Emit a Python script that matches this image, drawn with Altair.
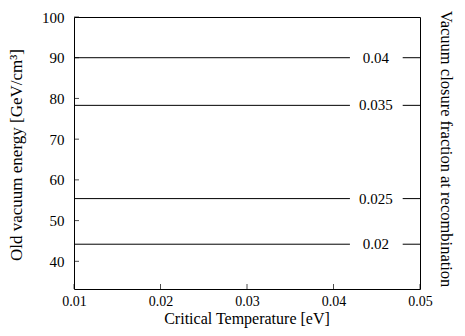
import altair as alt
import pandas as pd

# Data
levels = ["0.02", "0.025", "0.035", "0.04"]          # contour level labels
energies = [44.2, 55.4, 78.3, 90.0]                  # y of each contour line
x_ticks = [0.01, 0.02, 0.03, 0.04, 0.05]
y_ticks = [40, 50, 60, 70, 80, 90, 100]

X_MIN, X_MAX = 0.01, 0.05
Y_MIN, Y_MAX = 33.2, 100
GAP_START, GAP_END, LABEL_X = 0.0419, 0.0480, 0.0449

W, H = 346, 272
FONT = "Liberation Serif"
FS = 15
TFS = 17

segs = []
for lv, e in zip(levels, energies):
    segs.append({"level": lv, "y": e, "x": X_MIN, "x2": GAP_START})
    segs.append({"level": lv, "y": e, "x": GAP_END, "x2": X_MAX})
seg_df = pd.DataFrame(segs)
lab_df = pd.DataFrame({"level": levels, "y": energies, "x": [LABEL_X] * len(levels)})

xs = alt.Scale(domain=[X_MIN, X_MAX], nice=False, zero=False)
ys = alt.Scale(domain=[Y_MIN, Y_MAX], nice=False, zero=False)

xaxis = alt.Axis(values=x_ticks, format=".2f", ticks=False, domain=False, grid=False,
                 labelPadding=5, title=None, labelFont=FONT, labelFontSize=14,
                 labelColor="black", labelFlush=False)
yaxis = alt.Axis(values=y_ticks, format="d", ticks=False, domain=False, grid=False,
                 labelPadding=10, title=None, labelFont=FONT, labelFontSize=FS,
                 labelColor="black")

lines = alt.Chart(seg_df).mark_rule(color="black", strokeWidth=1).encode(
    x=alt.X("x:Q", scale=xs, axis=xaxis),
    x2="x2:Q",
    y=alt.Y("y:Q", scale=ys, axis=yaxis),
)

labels = alt.Chart(lab_df).mark_text(font=FONT, fontSize=FS, color="black",
                                     align="center", baseline="middle").encode(
    x=alt.X("x:Q", scale=xs),
    y=alt.Y("y:Q", scale=ys),
    text="level:N",
)

xt_df = pd.DataFrame({"x": x_ticks})
yt_df = pd.DataFrame({"y": y_ticks})
xtick_marks = alt.Chart(xt_df).mark_tick(color="black", size=5, thickness=1,
                                         orient="vertical").encode(
    x=alt.X("x:Q", scale=xs), y=alt.value(H - 2.5))
ytick_marks = alt.Chart(yt_df).mark_tick(color="black", size=5, thickness=1,
                                         orient="horizontal").encode(
    y=alt.Y("y:Q", scale=ys), x=alt.value(2.5))

titles_df = pd.DataFrame({
    "t": ["Critical Temperature [eV]", "Old vacuum energy [GeV/cm³]",
          "Vacuum closure fraction at recombination"],
})
xtitle = alt.Chart(titles_df.iloc[[0]]).mark_text(font=FONT, fontSize=16, color="black",
                                                   align="center", baseline="middle").encode(
    text="t:N", x=alt.value(W / 2), y=alt.value(H + 29.5))
ytitle = alt.Chart(titles_df.iloc[[1]]).mark_text(font=FONT, fontSize=TFS, color="black",
                                                   align="center", baseline="middle",
                                                   angle=270).encode(
    text="t:N", x=alt.value(-57), y=alt.value(H / 2 + 2))
rtitle = alt.Chart(titles_df.iloc[[2]]).mark_text(font=FONT, fontSize=16.5, color="black",
                                                   align="center", baseline="middle",
                                                   angle=90).encode(
    text="t:N", x=alt.value(W + 26), y=alt.value(H / 2 - 4))

chart = alt.layer(lines, labels, xtick_marks, ytick_marks, xtitle, ytitle, rtitle).properties(
    width=W, height=H,
    autosize=alt.AutoSizeParams(type="none"),
    padding={"left": 66, "top": 9, "right": 37, "bottom": 39},
).configure(background="white").configure_view(stroke="black", strokeWidth=1)

chart.save("out.html", embed_options={"renderer": "svg", "actions": False})
